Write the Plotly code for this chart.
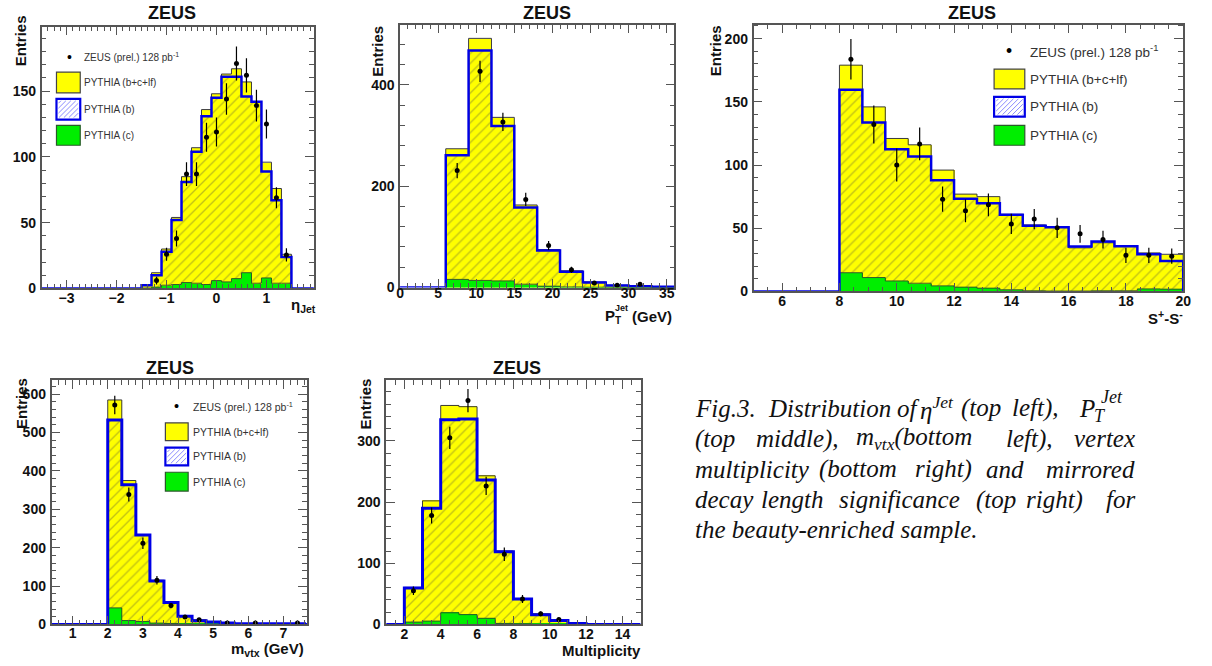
import numpy as np
import plotly.graph_objects as go

W, H = 1212, 666

# ---------------- data ----------------
# eta_Jet panel
eta_edges = [-1.5, -1.3, -1.1, -0.9, -0.7, -0.5, -0.3, -0.1, 0.1, 0.3, 0.5, 0.7, 0.9, 1.1, 1.3, 1.5]
eta_total = [3, 12, 30, 54, 85, 107, 136, 148, 163, 167, 157, 142, 96, 76, 26]
eta_b = [2.5, 10, 28, 52, 81, 104, 131, 145, 161, 161, 146, 142, 89, 67, 24]
eta_c = [0.3, 1, 2.5, 3, 4.5, 4, 3, 6, 5, 7.5, 12, 4, 8, 4, 4]
eta_data = [None, 6, 26, 38, 87, 87, 115, 119, 144, 171, 162, 139, 125, 69, 25.5]
eta_err = [None, 3, 5, 6, 9, 9, 11, 11, 12, 13, 13, 12, 11, 8, 5]

# P_T^Jet panel
pt_edges = [6, 9, 12, 15, 18, 21, 24, 27, 30, 33, 36]
pt_total = [274, 492, 336, 163, 75, 33, 11, 4.5, 2.6, 1]
pt_b = [261, 468, 319, 158, 73, 31, 10, 4, 2.6, 1.3]
pt_c = [16, 14, 13, 6.5, 2.6, 1, 0.5, 0.3, 0.2, 0.1]
pt_data = [231, 427, 327, 174, 83, 35, 9, 4.5, 6.5, None]
pt_err = [15, 21, 18, 13, 9, 6, 3, 2, 2.5, None]

# S+ - S- panel
s_edges = [8.0, 8.8, 9.6, 10.4, 11.2, 12.0, 12.8, 13.6, 14.4, 15.2, 16.0, 16.8, 17.6, 18.4, 19.2, 20.0]
s_total = [179, 146, 121, 116, 96, 77, 75, 61, 52.6, 51.3, 34.5, 38.5, 36, 30.5, 29.4]
s_b = [159.6, 133.6, 112.5, 106.8, 88, 73.4, 69.8, 60.7, 52, 50.8, 35.5, 39.6, 35.7, 29.4, 24]
s_c = [14.8, 11, 8.3, 6.5, 4.4, 3.4, 2.6, 1.3, 0.5, 0.3, 0.3, 0.5, 0.5, 2, 1.8]
s_data = [183.6, 132, 100, 116.7, 73, 63.8, 68.5, 53.4, 57.3, 50.3, 45.6, 41, 28.6, 28.6, 27.9]
s_err = [16, 15, 13, 13, 10, 9, 9, 8, 8, 8, 7, 7, 6, 6, 6]

# m_vtx panel
m_edges = [2.0, 2.4, 2.8, 3.2, 3.6, 4.0, 4.4, 4.8, 5.2, 5.6, 6.0, 6.4, 6.8, 7.2, 7.6]
m_total = [585, 375, 234, 115, 59, 23, 12, 6, 3.4, 2, 1.5, 1.5, 1.5, 1.5]
m_b = [533, 364, 233, 113, 57, 21, 9.4, 6, 4, 2, 2, 2, 2, 2]
m_c = [43, 10, 7.7, 3.4, 2.5, 1, 0.5, 0.3, 0.2, 0.1, 0.1, 0.1, 0.1, 0.1]
m_data = [572, 338.6, 211.7, 115, 49, 19, 12, None, 4, None, 4, None, None, 3.4]
m_err = [24, 18, 15, 11, 7, 4.4, 3.5, None, 2, None, 2, None, None, 2]

# vertex multiplicity panel
mult_edges = [2, 3, 4, 5, 6, 7, 8, 9, 10, 11, 12]
mult_total = [60.5, 202, 358, 356, 243, 120, 41.6, 17.3, 6.5, 1]
mult_b = [59.5, 190, 334.6, 336, 236, 119, 41.6, 16, 6.5, 1.5]
mult_c = [3.8, 5.4, 19, 16, 10, 1.6, 1, 0.3, 0.1, 0]
mult_data = [55, 178, 305, 366, 226.5, 114.6, 41.6, 17.3, 8, None]
mult_err = [7, 13, 18, 19, 15, 11, 6.5, 4, 3, None]

legend_labels = ["ZEUS (prel.) 128 pb<sup>-1</sup>", "PYTHIA (b+c+lf)", "PYTHIA (b)", "PYTHIA (c)"]

# ---------------- styling ----------------
YELLOW = "#ffff00"
GREEN = "#00ee00"
BLUE = "#0000e6"
HATCH = "#86862c"
FRAME = "#555555"
SANS = "Liberation Sans"
SERIF = "Liberation Serif"


def px(x):
    return x / W


def py(y):
    return 1 - y / H


fig = go.Figure()
shapes = []
annotations = []

panels = [
    dict(edges=eta_edges, tot=eta_total, b=eta_b, c=eta_c, d=eta_data, e=eta_err,
         box=(38, 27, 313, 292), xr=[-3.5, 1.95], yr=[0, 199], xd=1, xm=0.125, yd=50, ym=10, bw=2.5,
         title=(170, 13), xs=-4),
    dict(edges=pt_edges, tot=pt_total, b=pt_b, c=pt_c, d=pt_data, e=pt_err,
         box=(400, 25, 677, 291), xr=[0, 36], yr=[0, 519], xd=5, xm=1, yd=200, ym=40, bw=2.5,
         title=(548, 13), xs=-8),
    dict(edges=s_edges, tot=s_total, b=s_b, c=s_c, d=s_data, e=s_err,
         box=(757, 25, 1191, 295), xr=[5, 20], yr=[0, 211], xd=2, xm=0.5, yd=50, ym=10, bw=2.5,
         title=(978, 13), xs=-4),
    dict(edges=m_edges, tot=m_total, b=m_b, c=m_c, d=m_data, e=m_err,
         box=(48, 385, 306, 632), xr=[0.4, 7.67], yr=[0, 636], xd=1, xm=0.2, yd=100, ym=20, bw=3,
         title=(168, 372), xs=-5),
    dict(edges=mult_edges, tot=mult_total, b=mult_b, c=mult_c, d=mult_data, e=mult_err,
         box=(386, 385, 643, 632), xr=[1, 15], yr=[0, 399], xd=2, xm=0.5, yd=100, ym=20, bw=3,
         title=(518, 372), xs=-4),
]

layout_axes = {}
for i, p in enumerate(panels):
    n = i + 1
    xa = "x" if n == 1 else f"x{n}"
    ya = "y" if n == 1 else f"y{n}"
    edges = np.array(p["edges"], dtype=float)
    centers = (edges[:-1] + edges[1:]) / 2
    widths = np.diff(edges)
    tot = list(p["tot"])
    bv = list(p["b"])
    cv = list(p["c"])

    # total MC (yellow)
    fig.add_trace(go.Bar(x=centers, y=tot, width=widths, xaxis=xa, yaxis=ya,
                         marker=dict(color=YELLOW, line=dict(width=0)), showlegend=False))
    # beauty (hatched)
    fig.add_trace(go.Bar(x=centers, y=bv, width=widths, xaxis=xa, yaxis=ya,
                         marker=dict(color="rgba(0,0,0,0)", line=dict(width=0),
                                     pattern=dict(shape="/", fgcolor=HATCH, bgcolor="rgba(0,0,0,0)",
                                                  size=7, solidity=0.2)),
                         showlegend=False))
    # charm (green)
    fig.add_trace(go.Bar(x=centers, y=cv, width=widths, xaxis=xa, yaxis=ya,
                         marker=dict(color=GREEN, line=dict(width=0)), showlegend=False))
    # outlines
    xs_in = [edges[0]] + list(edges)
    fig.add_trace(go.Scatter(x=xs_in, y=[0] + tot + [0], mode="lines", line_shape="hv",
                             line=dict(color="#3a3a3a", width=1), xaxis=xa, yaxis=ya,
                             showlegend=False, hoverinfo="skip"))
    fig.add_trace(go.Scatter(x=xs_in, y=[0] + cv + [0], mode="lines", line_shape="hv",
                             line=dict(color="#2a5a2a", width=1), xaxis=xa, yaxis=ya,
                             showlegend=False, hoverinfo="skip"))
    xs_full = [p["xr"][0]] + list(edges) + [p["xr"][1]]
    fig.add_trace(go.Scatter(x=xs_full, y=[0] + bv + [0, 0], mode="lines", line_shape="hv",
                             line=dict(color=BLUE, width=p["bw"]), xaxis=xa, yaxis=ya,
                             showlegend=False, hoverinfo="skip", cliponaxis=True))
    # data
    fig.add_trace(go.Scatter(x=centers, y=p["d"], mode="markers", xaxis=xa, yaxis=ya,
                             marker=dict(color="black", size=5),
                             error_y=dict(type="data", array=p["e"], color="black", thickness=1.2, width=0),
                             showlegend=False))

    x0, y0, x1, y1 = p["box"]
    axcommon = dict(showline=True, linecolor=FRAME, linewidth=1.5, mirror="allticks",
                    ticks="inside", ticklen=9, tickwidth=1.2, tickcolor=FRAME,
                    showgrid=False, zeroline=False, tickprefix="<b>", ticksuffix="</b>",
                    tickfont=dict(family=SANS, size=14, color="#111", weight="bold"))
    layout_axes["xaxis" if n == 1 else f"xaxis{n}"] = dict(
        axcommon, domain=[px(x0), px(x1)], range=p["xr"], anchor=ya, dtick=p["xd"], tick0=0,
        minor=dict(dtick=p["xm"], ticks="inside", ticklen=5, tickcolor=FRAME, tickwidth=1),
        ticklabelstandoff=p["xs"])
    layout_axes["yaxis" if n == 1 else f"yaxis{n}"] = dict(
        axcommon, domain=[py(y1), py(y0)], range=p["yr"], anchor=xa, dtick=p["yd"], tick0=0,
        minor=dict(dtick=p["ym"], ticks="inside", ticklen=5, tickcolor=FRAME, tickwidth=1),
        ticklabelstandoff=1)

    # ZEUS title
    annotations.append(dict(x=px(p["title"][0]), y=py(p["title"][1]), xref="paper", yref="paper",
                            text="ZEUS", showarrow=False, xanchor="center", yanchor="middle",
                            font=dict(family=SANS, size=18, color="#111", weight="bold")))

# Entries labels
for (xc, yc) in [(17, 41), (377, 52), (718, 51), (17, 408), (365, 409)]:
    annotations.append(dict(x=px(xc), y=py(yc), xref="paper", yref="paper", text="Entries",
                            textangle=-90, showarrow=False, xanchor="center", yanchor="middle",
                            font=dict(family=SANS, size=15, color="#111", weight="bold")))

# x axis titles
xt_font = dict(family=SANS, size=15, color="#111", weight="bold")
annotations.append(dict(x=px(317), y=py(309), xref="paper", yref="paper", text="η<sub>Jet</sub>",
                        showarrow=False, xanchor="right", yanchor="middle", font=xt_font))
annotations.append(dict(x=px(605), y=py(319), xref="paper", yref="paper", text="P",
                        showarrow=False, xanchor="left", yanchor="middle", font=xt_font))
annotations.append(dict(x=px(615), y=py(312), xref="paper", yref="paper", text="Jet",
                        showarrow=False, xanchor="left", yanchor="middle",
                        font=dict(family=SANS, size=9, color="#111", weight="bold")))
annotations.append(dict(x=px(615), y=py(324), xref="paper", yref="paper", text="T",
                        showarrow=False, xanchor="left", yanchor="middle",
                        font=dict(family=SANS, size=10, color="#111", weight="bold")))
annotations.append(dict(x=px(677), y=py(320), xref="paper", yref="paper", text="(GeV)",
                        showarrow=False, xanchor="right", yanchor="middle", font=xt_font))
annotations.append(dict(x=px(1193), y=py(321), xref="paper", yref="paper", text="S<sup>+</sup>-S<sup>-</sup>",
                        showarrow=False, xanchor="right", yanchor="middle", font=xt_font))
annotations.append(dict(x=px(304), y=py(657), xref="paper", yref="paper", text="m<sub>vtx</sub> (GeV)",
                        showarrow=False, xanchor="right", yanchor="middle", font=xt_font, borderpad=0))
annotations.append(dict(x=px(644), y=py(658), xref="paper", yref="paper", text="Multiplicity",
                        showarrow=False, xanchor="right", yanchor="middle", font=xt_font, borderpad=0))


# ---------------- legends ----------------
def hatch_lines(x0, y0, x1, y1, step, color):
    out = []
    c = x0 + y0 + step / 2
    while c < x1 + y1:
        xa = max(x0, c - y1)
        xb = min(x1, c - y0)
        if xb > xa:
            out.append(dict(type="line", xref="paper", yref="paper",
                            x0=px(xa), y0=py(c - xa), x1=px(xb), y1=py(c - xb),
                            line=dict(color=color, width=1)))
        c += step
    return out


def add_legend(dot, texts_x, rows, boxx, fs):
    annotations.append(dict(x=px(dot[0]), y=py(dot[1]), xref="paper", yref="paper", text="•",
                            showarrow=False, xanchor="center", yanchor="middle",
                            font=dict(family=SANS, size=fs + 4, color="black")))
    annotations.append(dict(x=px(texts_x), y=py(dot[1]), xref="paper", yref="paper", text=legend_labels[0],
                            showarrow=False, xanchor="left", yanchor="middle",
                            font=dict(family=SANS, size=fs, color="#333")))
    styles = [(YELLOW, "#444444", 1.2), ("white", BLUE, 2.2), (GREEN, "#2a5a2a", 1.2)]
    for k, (ry0, ry1) in enumerate(rows):
        fill, lc, lw = styles[k]
        shapes.append(dict(type="rect", xref="paper", yref="paper", x0=px(boxx[0]), x1=px(boxx[1]),
                           y0=py(ry1), y1=py(ry0), fillcolor=fill, line=dict(color=lc, width=lw),
                           layer="above"))
        if k == 1:
            shapes.extend(hatch_lines(boxx[0] + 2, ry0 + 2, boxx[1] - 2, ry1 - 2, 5, "#8c8cff"))
        annotations.append(dict(x=px(texts_x), y=py((ry0 + ry1) / 2), xref="paper", yref="paper",
                                text=legend_labels[k + 1], showarrow=False, xanchor="left", yanchor="middle",
                                font=dict(family=SANS, size=fs, color="#333")))


add_legend((66, 58), 79, [(73, 94), (100, 121), (127, 147)], (53, 77), 10)
add_legend((1015, 52), 1034, [(70, 90), (98, 118), (127, 147)], (1000, 1031), 13.5)
add_legend((174, 411), 189, [(428, 446), (453, 471), (478, 497)], (163, 186), 10.5)

# ---------------- caption ----------------
cap_font = dict(family=SERIF, size=25, color="#111", style="italic")
sup_font = dict(family=SERIF, size=18, color="#111", style="italic")
# (y, [(x, text, anchor)])
caption_lines = [
    (413, [(698, "Fig.3.", "left"), (772, "Distribution", "left"), (902, "of", "left"),
           (925, "η<sup>Jet</sup>", "left"), (967, "(top", "left"), (1018, "left),", "left"),
           (1086, "P", "left")]),
    (444, [(698, "(top", "left"), (760, "middle),", "left"), (860, "m<sub>vtx</sub>(bottom", "left"),
           (1012, "left),", "left"), (1142, "vertex", "right")]),
    (475, [(698, "multiplicity", "left"), (823, "(bottom", "left"), (920, "right)", "left"),
           (992, "and", "left"), (1142, "mirrored", "right")]),
    (506, [(698, "decay", "left"), (765, "length", "left"), (843, "significance", "left"),
           (982, "(top", "left"), (1032, "right)", "left"), (1142, "for", "right")]),
    (536, [(698, "the beauty-enriched sample.", "left")]),
]
for yc, words in caption_lines:
    for xw, t, anc in words:
        xx = xw - 2 if anc == "left" else xw + 2
        annotations.append(dict(x=px(xx), y=py(yc), xref="paper", yref="paper", text=t, showarrow=False,
                                xanchor=anc, yanchor="middle", font=cap_font))
# stacked super/subscript of P_T^Jet in caption
annotations.append(dict(x=px(1106), y=py(402), xref="paper", yref="paper", text="Jet", showarrow=False,
                        xanchor="left", yanchor="middle", font=sup_font))
annotations.append(dict(x=px(1099), y=py(421), xref="paper", yref="paper", text="T", showarrow=False,
                        xanchor="left", yanchor="middle", font=sup_font))

fig.update_layout(
    width=W, height=H, margin=dict(l=0, r=0, t=0, b=0, pad=0),
    paper_bgcolor="white", plot_bgcolor="white",
    barmode="overlay", bargap=0, showlegend=False,
    shapes=shapes, annotations=annotations,
    **layout_axes,
)

post = (
    "document.documentElement.style.margin='0';"
    "document.documentElement.style.overflow='hidden';"
    "document.body.style.margin='0';document.body.style.padding='0';"
    "document.body.style.overflow='hidden';document.body.style.lineHeight='0';"
    "var g=document.getElementById('{plot_id}');"
    "if(g){g.style.display='block';if(g.parentNode){g.parentNode.style.display='block';"
    "g.parentNode.style.lineHeight='0';}}"
)
fig.write_html("out.html", config={"displayModeBar": False}, post_script=[post])
